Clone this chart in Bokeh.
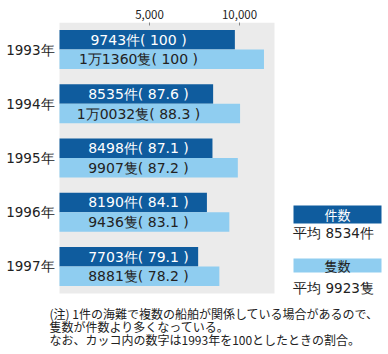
from bokeh.plotting import figure
from bokeh.models import Range1d, FixedTicker, NumeralTickFormatter, ColumnDataSource
from bokeh.core.properties import value
from bokeh.embed import file_html
from bokeh.resources import INLINE

years = ["1993年", "1994年", "1995年", "1996年", "1997年"]
cases = [9743, 8535, 8498, 8190, 7703]
cases_idx = ["100", "87.6", "87.1", "84.1", "79.1"]
ships = [11360, 10032, 9907, 9436, 8881]
ships_idx = ["100", "88.3", "87.2", "83.1", "78.2"]
avg_cases = 8534
avg_ships = 9923
x_ticks = [5000, 10000]
notes = [
    "(注) 1件の海難で複数の船舶が関係している場合があるので、",
    "隻数が件数より多くなっている。",
    "なお、カッコ内の数字は1993年を100としたときの割合。",
]

DARK = "#0f5c9e"
LIGHT = "#8fcdf0"
GRAY = "#ebebeb"
TXT = "#222222"
CJK = value("Noto Sans CJK JP")
NUM = value("DejaVu Sans")

W, H = 388, 354
X0, TOP = 59, 22   # pixel of x=0 and frame top
SX = 0.018         # px per unit on x
SY = 54.2          # px per category band

def dx(px):
    return (px - X0) / SX

def dy(py):
    return (py - TOP) / SY

p = figure(width=W, height=H, output_backend="svg", toolbar_location=None,
           x_range=Range1d(dx(0), dx(W)), y_range=Range1d(dy(H), 0),
           x_axis_location="above", y_axis_location=None,
           min_border_left=0, min_border_right=0, min_border_top=TOP,
           min_border_bottom=0)
p.outline_line_color = None
p.background_fill_color = "white"
p.border_fill_color = "white"
p.xgrid.visible = False
p.ygrid.visible = False

# gray plotting area
p.quad(left=0, right=dx(274), top=0, bottom=len(years), fill_color=GRAY, line_color=None)

n = len(years)
yc = [i + 0.5 for i in range(n)]
off = 0.18
hgt = 0.36

def ship_txt(v):
    return f"1万{v - 10000:04d}" if v >= 10000 else str(v)

src = ColumnDataSource(dict(
    yc=yc, years=years,
    yd=[y - off for y in yc], yl=[y + off for y in yc],
    cases=cases, ships=ships,
    lc=[f"{c}件( {i} )" for c, i in zip(cases, cases_idx)],
    ls=[f"{ship_txt(s)}隻( {i} )" for s, i in zip(ships, ships_idx)],
    tx=[dx(138)] * n, yx=[dx(54)] * n,
))
p.hbar(y="yd", left=0, right="cases", height=hgt, fill_color=DARK, line_color=None, source=src)
p.hbar(y="yl", left=0, right="ships", height=hgt, fill_color=LIGHT, line_color=None, source=src)
p.text(x="tx", y="yd", text="lc", source=src, text_color="white", text_font=NUM,
       text_font_size=value("14px"), text_align="center", text_baseline="middle")
p.text(x="tx", y="yl", text="ls", source=src, text_color=TXT, text_font=NUM,
       text_font_size=value("14px"), text_align="center", text_baseline="middle")

# year labels
p.text(x="yx", y="yc", text="years", source=src, text_color=TXT, text_font=NUM,
       text_font_size=value("13.5px"), text_align="right", text_baseline="middle")

# top axis
xa = p.xaxis[0]
xa.ticker = FixedTicker(ticks=x_ticks)
xa.formatter = NumeralTickFormatter(format="0,0")
xa.axis_line_color = None
xa.major_tick_in = 3
xa.major_tick_out = 0
xa.major_tick_line_color = "#888888"
xa.minor_tick_line_color = None
xa.major_label_standoff = 4
xa.major_label_text_font = "Noto Sans CJK JP"
xa.major_label_text_font_size = "11.5px"
xa.major_label_text_color = TXT

# legend on the right
lx0, lx1 = dx(293), dx(381)
p.quad(left=[lx0], right=[lx1], top=[dy(205)], bottom=[dy(223)], fill_color=DARK, line_color=None)
p.quad(left=[lx0], right=[lx1], top=[dy(258)], bottom=[dy(272)], fill_color=LIGHT, line_color=None)
lcx = dx(337)
p.text(x=[lcx], y=[dy(214)], text=["件数"], text_color="white", text_font=CJK,
       text_font_size=value("13px"), text_align="center", text_baseline="middle")
p.text(x=[lcx], y=[dy(265)], text=["隻数"], text_color=TXT, text_font=CJK,
       text_font_size=value("13px"), text_align="center", text_baseline="middle")
p.text(x=[dx(333)], y=[dy(232)], text=[f"平均 {avg_cases}件"], text_color=TXT, text_font=NUM,
       text_font_size=value("13.5px"), text_align="center", text_baseline="middle")
p.text(x=[dx(333)], y=[dy(287)], text=[f"平均 {avg_ships}隻"], text_color=TXT, text_font=NUM,
       text_font_size=value("13.5px"), text_align="center", text_baseline="middle")

# notes
p.text(x=[dx(49)] * len(notes), y=[dy(313 + 13 * i) for i in range(len(notes))], text=notes,
       text_color=TXT, text_font=CJK, text_font_size=value("12px"),
       text_align="left", text_baseline="middle")

open("out.html", "w").write(file_html(p, INLINE))
